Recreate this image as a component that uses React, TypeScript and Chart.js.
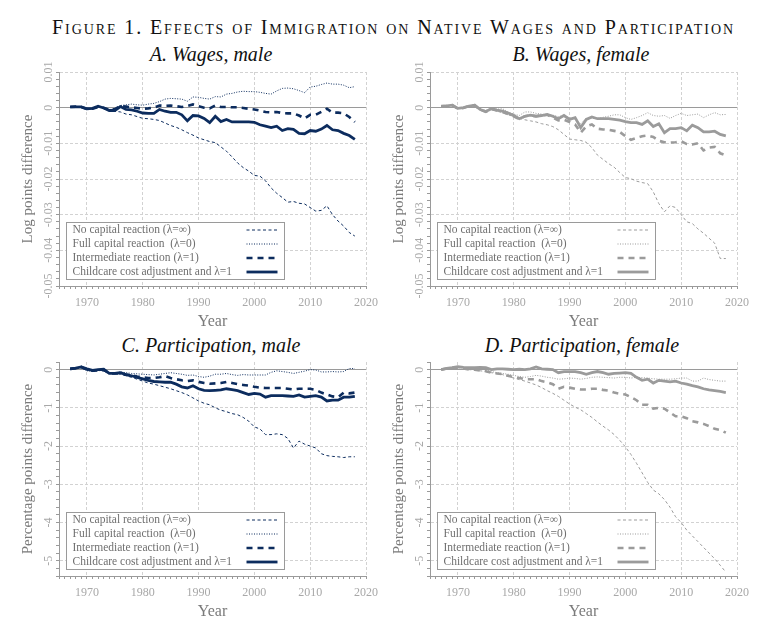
import { useEffect, useRef } from 'react'
import { Chart, registerables } from 'chart.js'
import type { ChartConfiguration, Plugin } from 'chart.js'

Chart.register(...registerables)

const FONT = '"Liberation Serif", "Times New Roman", serif'

const years = [
  1967, 1968, 1969, 1970, 1971, 1972, 1973, 1974, 1975, 1976,
  1977, 1978, 1979, 1980, 1981, 1982, 1983, 1984, 1985, 1986,
  1987, 1988, 1989, 1990, 1991, 1992, 1993, 1994, 1995, 1996,
  1997, 1998, 1999, 2000, 2001, 2002, 2003, 2004, 2005, 2006,
  2007, 2008, 2009, 2010, 2011, 2012, 2013, 2014, 2015, 2016,
  2017, 2018,
]

const seriesLabels = [
  'No capital reaction (λ=∞)',
  'Full capital reaction  (λ=0)',
  'Intermediate reaction (λ=1)',
  'Childcare cost adjustment and λ=1',
]

// A. Wages, male (log points)
const noCapWageMale = [
  0.0002, 0.0002, 0.0001, -0.0004, -0.0003, 0.0002, -0.0002, -0.0008, -0.0010, -0.0012,
  -0.0018, -0.0020, -0.0025, -0.0030, -0.0031, -0.0033, -0.0036, -0.0043, -0.0050, -0.0055,
  -0.0062, -0.0070, -0.0077, -0.0085, -0.0090, -0.0095, -0.0098, -0.0110, -0.0122, -0.0138,
  -0.0155, -0.0168, -0.0178, -0.0190, -0.0192, -0.0205, -0.0225, -0.0240, -0.0252, -0.0265,
  -0.0263, -0.0268, -0.0270, -0.0280, -0.0290, -0.0288, -0.0275, -0.0300, -0.0318, -0.0332,
  -0.0350, -0.0360,
]
const fullCapWageMale = [
  0.0003, 0.0002, 0.0001, -0.0003, -0.0002, 0.0003, 0.0000, -0.0005, -0.0003, 0.0006,
  0.0008, 0.0010, 0.0008, 0.0007, 0.0010, 0.0012, 0.0017, 0.0024, 0.0026, 0.0025,
  0.0024, 0.0018, 0.0030, 0.0029, 0.0026, 0.0024, 0.0031, 0.0030, 0.0038, 0.0040,
  0.0044, 0.0046, 0.0045, 0.0045, 0.0043, 0.0040, 0.0038, 0.0047, 0.0054, 0.0055,
  0.0053, 0.0048, 0.0042, 0.0058, 0.0060, 0.0065, 0.0069, 0.0066, 0.0066, 0.0063,
  0.0056, 0.0059,
]
const intermWageMale = [
  0.0002, 0.0003, 0.0002, -0.0004, -0.0003, 0.0002, 0.0000, -0.0006, -0.0004, 0.0005,
  0.0003, 0.0001, -0.0001, -0.0003, -0.0002, 0.0000, 0.0006, 0.0005, 0.0006, 0.0004,
  0.0002, 0.0005, 0.0009, 0.0004, 0.0000, -0.0002, 0.0006, 0.0002, 0.0002, 0.0001,
  0.0001, -0.0001, -0.0003, -0.0005, -0.0008, -0.0012, -0.0013, -0.0012, -0.0015, -0.0016,
  -0.0016, -0.0022, -0.0030, -0.0020, -0.0020, -0.0012, -0.0003, -0.0014, -0.0014, -0.0016,
  -0.0026, -0.0040,
]
const childWageMale = [
  0.0002, 0.0002, 0.0002, -0.0003, -0.0002, 0.0004, -0.0001, -0.0008, -0.0008, 0.0003,
  -0.0005, -0.0006, -0.0010, -0.0015, -0.0016, -0.0016, -0.0005, -0.0010, -0.0013, -0.0013,
  -0.0020, -0.0037, -0.0022, -0.0023, -0.0030, -0.0042, -0.0024, -0.0039, -0.0033, -0.0040,
  -0.0040, -0.0040, -0.0040, -0.0041, -0.0048, -0.0052, -0.0056, -0.0052, -0.0064, -0.0059,
  -0.0061, -0.0072, -0.0073, -0.0064, -0.0066, -0.0060, -0.0050, -0.0062, -0.0064, -0.0072,
  -0.0078, -0.0089,
]

// B. Wages, female (log points)
const noCapWageFemale = [
  0.0004, 0.0005, 0.0007, -0.0002, 0.0000, 0.0004, 0.0005, -0.0006, -0.0010, -0.0004,
  -0.0010, -0.0014, -0.0020, -0.0025, -0.0030, -0.0034, -0.0037, -0.0040, -0.0045, -0.0048,
  -0.0053, -0.0062, -0.0075, -0.0088, -0.0090, -0.0092, -0.0097, -0.0112, -0.0133, -0.0145,
  -0.0157, -0.0167, -0.0182, -0.0196, -0.0199, -0.0206, -0.0210, -0.0213, -0.0236, -0.0269,
  -0.0292, -0.0275, -0.0280, -0.0300, -0.0320, -0.0325, -0.0340, -0.0352, -0.0366, -0.0380,
  -0.0423, -0.0423,
]
const fullCapWageFemale = [
  0.0004, 0.0005, 0.0007, -0.0002, 0.0000, 0.0004, 0.0006, -0.0004, -0.0008, -0.0001,
  -0.0004, -0.0003, -0.0012, -0.0018, -0.0022, -0.0012, -0.0012, -0.0016, -0.0018, -0.0020,
  -0.0021, -0.0025, -0.0022, -0.0028, -0.0032, -0.0045, -0.0029, -0.0030, -0.0031, -0.0027,
  -0.0024, -0.0020, -0.0020, -0.0028, -0.0033, -0.0028, -0.0022, -0.0014, -0.0022, -0.0024,
  -0.0022, -0.0030, -0.0022, -0.0016, -0.0022, -0.0020, -0.0018, -0.0028, -0.0020, -0.0014,
  -0.0020, -0.0019,
]
const intermWageFemale = [
  0.0004, 0.0005, 0.0007, -0.0003, -0.0001, 0.0005, 0.0007, -0.0006, -0.0012, -0.0004,
  -0.0008, -0.0012, -0.0018, -0.0024, -0.0032, -0.0024, -0.0022, -0.0024, -0.0022, -0.0020,
  -0.0028, -0.0036, -0.0034, -0.0040, -0.0047, -0.0070, -0.0052, -0.0047, -0.0059, -0.0061,
  -0.0062, -0.0065, -0.0068, -0.0080, -0.0090, -0.0085, -0.0080, -0.0078, -0.0082, -0.0093,
  -0.0097, -0.0098, -0.0097, -0.0094, -0.0102, -0.0103, -0.0100, -0.0120, -0.0112, -0.0110,
  -0.0128, -0.0134,
]
const childWageFemale = [
  0.0004, 0.0005, 0.0007, -0.0002, 0.0000, 0.0004, 0.0007, -0.0005, -0.0011, -0.0003,
  -0.0007, -0.0010, -0.0015, -0.0022, -0.0031, -0.0024, -0.0021, -0.0024, -0.0022, -0.0019,
  -0.0024, -0.0031, -0.0022, -0.0033, -0.0028, -0.0056, -0.0033, -0.0026, -0.0031, -0.0031,
  -0.0031, -0.0033, -0.0035, -0.0039, -0.0042, -0.0042, -0.0047, -0.0037, -0.0053, -0.0045,
  -0.0070, -0.0059, -0.0059, -0.0056, -0.0065, -0.0049, -0.0056, -0.0068, -0.0068, -0.0066,
  -0.0075, -0.0079,
]

// C. Participation, male (percentage points)
const noCapPartMale = [
  0.02, 0.04, 0.05, -0.02, -0.04, -0.02, -0.04, -0.10, -0.10, -0.12,
  -0.16, -0.20, -0.25, -0.30, -0.35, -0.38, -0.42, -0.46, -0.50, -0.55,
  -0.60, -0.66, -0.74, -0.82, -0.88, -0.92, -1.00, -1.06, -1.10, -1.15,
  -1.18, -1.25, -1.35, -1.50, -1.55, -1.70, -1.70, -1.68, -1.70, -1.80,
  -2.05, -1.87, -1.95, -2.00, -2.05, -2.20, -2.25, -2.27, -2.28, -2.30,
  -2.28, -2.28,
]
const fullCapPartMale = [
  0.02, 0.04, 0.05, -0.03, -0.05, -0.02, -0.03, -0.08, -0.08, -0.06,
  -0.08, -0.10, -0.11, -0.12, -0.13, -0.14, -0.12, -0.10, -0.08, -0.10,
  -0.12, -0.15, -0.14, -0.18, -0.20, -0.17, -0.12, -0.12, -0.10, -0.13,
  -0.15, -0.13, -0.14, -0.14, -0.14, -0.14, -0.07, -0.03, -0.05, -0.07,
  -0.10, -0.07, -0.04, 0.00, -0.01, -0.06, -0.06, -0.05, -0.06, -0.05,
  0.03, 0.03,
]
const intermPartMale = [
  0.02, 0.04, 0.07, 0.00, -0.03, -0.02, 0.00, -0.10, -0.10, -0.10,
  -0.13, -0.15, -0.18, -0.20, -0.22, -0.22, -0.20, -0.17, -0.22, -0.25,
  -0.28, -0.30, -0.28, -0.32, -0.35, -0.37, -0.36, -0.35, -0.32, -0.35,
  -0.38, -0.40, -0.42, -0.45, -0.47, -0.48, -0.48, -0.48, -0.48, -0.50,
  -0.52, -0.50, -0.50, -0.50, -0.53, -0.60, -0.65, -0.70, -0.72, -0.60,
  -0.62, -0.60,
]
const childPartMale = [
  0.02, 0.04, 0.07, 0.02, -0.02, 0.00, 0.01, -0.10, -0.10, -0.08,
  -0.13, -0.16, -0.20, -0.24, -0.28, -0.31, -0.32, -0.33, -0.33, -0.38,
  -0.45, -0.48, -0.42, -0.50, -0.54, -0.55, -0.54, -0.53, -0.50, -0.52,
  -0.55, -0.60, -0.65, -0.62, -0.64, -0.72, -0.68, -0.68, -0.68, -0.69,
  -0.70, -0.66, -0.72, -0.70, -0.68, -0.72, -0.82, -0.80, -0.80, -0.72,
  -0.72, -0.70,
]

// D. Participation, female (percentage points)
const noCapPartFemale = [
  0.00, 0.03, 0.05, 0.05, 0.03, 0.00, -0.01, -0.03, -0.05, -0.08,
  -0.10, -0.13, -0.18, -0.22, -0.26, -0.30, -0.35, -0.40, -0.47, -0.55,
  -0.62, -0.70, -0.80, -0.90, -0.98, -1.05, -1.15, -1.25, -1.37, -1.48,
  -1.58, -1.70, -1.85, -2.02, -2.22, -2.45, -2.70, -2.95, -3.15, -3.25,
  -3.40, -3.60, -3.85, -4.00, -4.20, -4.35, -4.50, -4.65, -4.80, -4.95,
  -5.12, -5.30,
]
const fullCapPartFemale = [
  0.00, 0.03, 0.05, 0.06, 0.04, 0.02, 0.03, 0.02, 0.00, -0.05,
  -0.08, -0.10, -0.12, -0.15, -0.18, -0.20, -0.18, -0.15, -0.17, -0.20,
  -0.22, -0.25, -0.24, -0.22, -0.23, -0.25, -0.23, -0.20, -0.19, -0.20,
  -0.21, -0.22, -0.20, -0.20, -0.22, -0.20, -0.21, -0.22, -0.24, -0.25,
  -0.25, -0.25, -0.24, -0.22, -0.22, -0.30, -0.30, -0.22, -0.26, -0.28,
  -0.30, -0.30,
]
const intermPartFemale = [
  0.00, 0.03, 0.05, 0.05, 0.03, 0.00, 0.00, -0.02, -0.04, -0.08,
  -0.10, -0.12, -0.16, -0.20, -0.22, -0.25, -0.25, -0.25, -0.30, -0.33,
  -0.38, -0.50, -0.45, -0.47, -0.50, -0.52, -0.52, -0.50, -0.50, -0.53,
  -0.55, -0.60, -0.63, -0.65, -0.72, -0.80, -0.92, -0.92, -1.02, -1.00,
  -1.02, -1.12, -1.22, -1.22, -1.27, -1.35, -1.38, -1.42, -1.48, -1.55,
  -1.58, -1.65,
]
const childPartFemale = [
  0.00, 0.03, 0.05, 0.08, 0.06, 0.05, 0.05, 0.06, 0.05, 0.00,
  0.02, 0.02, 0.01, 0.00, 0.01, 0.00, 0.02, 0.07, 0.02, 0.01,
  0.00, -0.08, -0.05, -0.05, -0.05, -0.08, -0.12, -0.08, -0.05, -0.08,
  -0.12, -0.10, -0.09, -0.08, -0.10, -0.20, -0.28, -0.25, -0.35, -0.28,
  -0.30, -0.32, -0.30, -0.35, -0.38, -0.42, -0.45, -0.50, -0.53, -0.55,
  -0.57, -0.60,
]

const NAVY = '#0c2c5e'
const GREY = '#9b9b9b'
const AXIS = '#9a9a9a'
const GRID = '#d2d2d2'
const TICK_TEXT = '#a8a8a8'
const TITLE_TEXT = '#7a7a7a'

// dash / width per series, same order as seriesLabels
const lineStyles = [
  { dash: [3, 2.5], width: 1, order: 3 },
  { dash: [1, 1.5], width: 1, order: 2 },
  { dash: [6, 5], width: 2.6, order: 1 },
  { dash: [], width: 2.8, order: 0 },
]

const insetLegend: Plugin<'line'> = {
  id: 'insetLegend',
  afterDatasetsDraw(chart) {
    const { ctx, chartArea } = chart
    const w = 218
    const h = 57
    const x0 = Math.round(chartArea.left + 7) + 0.5
    const y0 = Math.round(chartArea.bottom - 7 - h) + 0.5
    ctx.save()
    ctx.setLineDash([])
    ctx.fillStyle = '#ffffff'
    ctx.fillRect(x0, y0, w, h)
    ctx.strokeStyle = AXIS
    ctx.lineWidth = 1
    ctx.strokeRect(x0, y0, w, h)
    ctx.font = `11.5px ${FONT}`
    ctx.textBaseline = 'middle'
    ctx.textAlign = 'left'
    chart.data.datasets.forEach((ds, i) => {
      const y = y0 + 7.5 + i * 14
      ctx.fillStyle = '#6f6f6f'
      ctx.fillText(String(ds.label), x0 + 6, y)
      ctx.beginPath()
      ctx.setLineDash((ds.borderDash as number[]) || [])
      ctx.lineWidth = ds.borderWidth as number
      ctx.strokeStyle = ds.borderColor as string
      ctx.moveTo(x0 + 180, y)
      ctx.lineTo(x0 + 211, y)
      ctx.stroke()
    })
    ctx.restore()
  },
}

interface PanelProps {
  left: number
  top: number
  yTitle: string
  color: string
  series: number[][]
  yMin: number
  yMax: number
  yStep: number
  yMajor: number
  yDecimals: number
  labelPad: number
}

function Panel({ left, top, yTitle, color, series, yMin, yMax, yStep, yMajor, yDecimals, labelPad }: PanelProps) {
  const canvasRef = useRef<HTMLCanvasElement>(null)

  useEffect(() => {
    if (!canvasRef.current) return
    const isMajor = (v: number) => Math.abs(v / yMajor - Math.round(v / yMajor)) < 1e-6
    const isZero = (v: number) => Math.abs(v) < 1e-9

    const config: ChartConfiguration<'line'> = {
      type: 'line',
      data: {
        datasets: series.map((vals, i) => ({
          label: seriesLabels[i],
          data: years.map((yr, j) => ({ x: yr, y: vals[j] })),
          borderColor: color,
          borderWidth: lineStyles[i].width,
          borderDash: lineStyles[i].dash,
          order: lineStyles[i].order,
          pointRadius: 0,
          tension: 0,
          fill: false,
        })),
      },
      options: {
        responsive: false,
        animation: false,
        layout: { padding: { top: 10, right: 24, bottom: 0, left: 0 } },
        plugins: {
          legend: { display: false },
          tooltip: { enabled: false },
        },
        scales: {
          x: {
            type: 'linear',
            min: 1965,
            max: 2020,
            afterFit: (s) => { s.height = 46 },
            ticks: {
              stepSize: 1,
              autoSkip: false,
              minRotation: 0,
              maxRotation: 0,
              padding: 7,
              color: TICK_TEXT,
              font: { family: FONT, size: 12 },
              callback: (v) => (Number(v) % 10 === 0 ? String(v) : ''),
            },
            grid: {
              color: (c) => (c.tick && c.tick.value % 10 === 0 ? GRID : 'rgba(0,0,0,0)'),
              tickColor: AXIS,
              tickLength: 3,
            },
            border: { color: AXIS, dash: [3, 2] },
            title: {
              display: true,
              text: 'Year',
              color: TITLE_TEXT,
              font: { family: FONT, size: 16 },
              padding: { top: 0, bottom: 1 },
            },
          },
          y: {
            type: 'linear',
            min: yMin,
            max: yMax,
            afterFit: (s) => { s.width = 59 },
            ticks: {
              stepSize: yStep,
              autoSkip: false,
              minRotation: 90,
              maxRotation: 90,
              crossAlign: 'center',
              padding: labelPad,
              color: TICK_TEXT,
              font: { family: FONT, size: 12 },
              callback: (v) => {
                const n = Number(v)
                if (!isMajor(n)) return ''
                if (isZero(n)) return '0'
                return (Math.round(n / yMajor) * yMajor).toFixed(yDecimals)
              },
            },
            grid: {
              color: (c) => {
                if (!c.tick || !isMajor(c.tick.value)) return 'rgba(0,0,0,0)'
                return isZero(c.tick.value) ? AXIS : GRID
              },
              tickColor: AXIS,
              tickLength: 3,
            },
            border: {
              color: AXIS,
              dash: (c) => (c.tick && isZero(c.tick.value) ? [] : [3, 2]),
            },
            title: {
              display: true,
              text: yTitle,
              color: TITLE_TEXT,
              font: { family: FONT, size: 15 },
              padding: { top: 19, bottom: 0 },
            },
          },
        },
      },
      plugins: [insetLegend],
    }

    const chart = new Chart(canvasRef.current, config)
    return () => chart.destroy()
  }, [left, top, yTitle, color, series, yMin, yMax, yStep, yMajor, yDecimals, labelPad])

  return (
    <canvas
      ref={canvasRef}
      width={390}
      height={270}
      style={{ position: 'absolute', left, top, width: 390, height: 270 }}
    />
  )
}

const panelTitle = (text: string, center: number, top: number) => (
  <div
    style={{
      position: 'absolute',
      left: center - 160,
      top,
      width: 320,
      textAlign: 'center',
      fontFamily: FONT,
      fontStyle: 'italic',
      fontSize: 20,
      lineHeight: '20px',
      color: '#111',
      whiteSpace: 'nowrap',
    }}
  >
    {text}
  </div>
)

export default function App() {
  return (
    <div
      style={{
        position: 'absolute',
        left: 0,
        top: 0,
        width: 767,
        height: 623,
        overflow: 'hidden',
        background: '#fff',
      }}
    >
      <div
        style={{
          position: 'absolute',
          left: 10,
          top: 17,
          width: 767,
          textAlign: 'center',
          fontFamily: FONT,
          fontVariant: 'small-caps',
          fontSize: 20,
          letterSpacing: '1.9px',
          lineHeight: '20px',
          color: '#111',
          whiteSpace: 'nowrap',
        }}
      >
        Figure 1. Effects of Immigration on Native Wages and Participation
      </div>
      {panelTitle('A. Wages, male', 211, 44)}
      {panelTitle('B. Wages, female', 581, 44)}
      {panelTitle('C. Participation, male', 211, 335)}
      {panelTitle('D. Participation, female', 582, 335)}
      <Panel
        left={0}
        top={62}
        yTitle="Log points difference"
        color={NAVY}
        series={[noCapWageMale, fullCapWageMale, intermWageMale, childWageMale]}
        yMin={-0.05}
        yMax={0.01}
        yStep={0.002}
        yMajor={0.01}
        yDecimals={2}
        labelPad={-5.8}
      />
      <Panel
        left={371}
        top={62}
        yTitle="Log points difference"
        color={GREY}
        series={[noCapWageFemale, fullCapWageFemale, intermWageFemale, childWageFemale]}
        yMin={-0.05}
        yMax={0.01}
        yStep={0.002}
        yMajor={0.01}
        yDecimals={2}
        labelPad={-5.8}
      />
      <Panel
        left={0}
        top={352}
        yTitle="Percentage points difference"
        color={NAVY}
        series={[noCapPartMale, fullCapPartMale, intermPartMale, childPartMale]}
        yMin={-5.4}
        yMax={0.2}
        yStep={0.2}
        yMajor={1}
        yDecimals={0}
        labelPad={2.3}
      />
      <Panel
        left={371}
        top={352}
        yTitle="Percentage points difference"
        color={GREY}
        series={[noCapPartFemale, fullCapPartFemale, intermPartFemale, childPartFemale]}
        yMin={-5.4}
        yMax={0.2}
        yStep={0.2}
        yMajor={1}
        yDecimals={0}
        labelPad={2.3}
      />
    </div>
  )
}
